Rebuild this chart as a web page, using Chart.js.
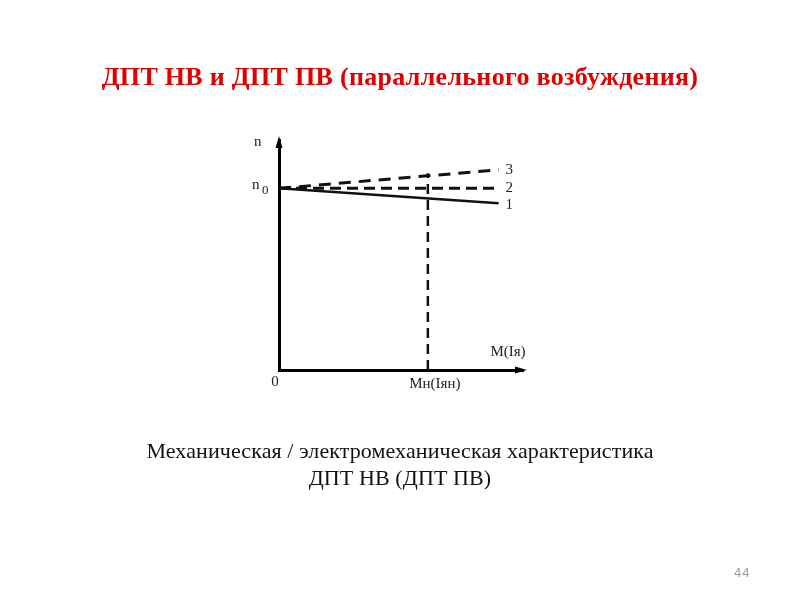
<!DOCTYPE html>
<html>
<head>
<meta charset="utf-8">
<script src="https://cdn.jsdelivr.net/npm/chart.js@4"></script>
<style>
  html,body{margin:0;padding:0;background:#fff;width:800px;height:600px;overflow:hidden;}
  #wrap{position:absolute;left:0;top:0;width:800px;height:600px;}
  .t{position:absolute;left:0;width:800px;text-align:center;font-family:"Liberation Serif","Times New Roman",serif;white-space:nowrap;line-height:1;}
  #title{top:64px;font-size:26px;font-weight:bold;color:#e00000;letter-spacing:0.3px;}
  #cap1{top:440px;font-size:22px;color:#111;letter-spacing:0.1px;}
  #cap2{top:467px;font-size:22px;color:#111;letter-spacing:0.1px;}
  #pg{position:absolute;left:734px;top:565px;font-family:"Liberation Sans",Arial,sans-serif;font-size:13px;color:#9a9a9a;letter-spacing:1px;}
</style>
</head>
<body>
<div id="wrap"><canvas id="c" width="800" height="600"></canvas></div>
<div class="t" id="title">ДПТ НВ и ДПТ ПВ (параллельного возбуждения)</div>
<div class="t" id="cap1">Механическая / электромеханическая характеристика</div>
<div class="t" id="cap2">ДПТ НВ (ДПТ ПВ)</div>
<div id="pg">44</div>
<script>
// ---- data ----
const xRange = [0, 10];          // M (Iя) axis, arbitrary units
const yRange = [0, 10];          // n axis, arbitrary units
const xLine = [0, 9];            // start / end of characteristics
const curve1 = [7.9, 7.25];      // 1 – falling (solid)
const curve2 = [7.9, 7.9];       // 2 – constant (dashed)
const curve3 = [7.9, 8.7];       // 3 – rising (dashed)
const nominalX = [6.1, 6.1];     // Мн (Iян)
const nominalY = [0, 8.55];
const n0Value = 7.9;
const curveLabels = ['1', '2', '3'];
const axisLabels = { y: 'n', y0: 'n', y0sub: '0', x: 'M(Iя)', origin: '0', nominal: 'Мн(Iян)' };

const pts = (xs, ys) => xs.map((x, i) => ({ x: x, y: ys[i] }));

const annot = {
  id: 'annot',
  afterDraw(chart) {
    const ctx = chart.ctx;
    const xs = chart.scales.x, ys = chart.scales.y;
    const X = v => xs.getPixelForValue(v), Y = v => ys.getPixelForValue(v);
    ctx.save();
    ctx.fillStyle = '#000';
    // arrows
    const ax = X(xRange[0]), ay = Y(yRange[0]);
    const topY = Y(yRange[1]), rightX = X(xRange[1]);
    ctx.beginPath();
    ctx.moveTo(ax, topY - 4); ctx.lineTo(ax - 3.5, topY + 8); ctx.lineTo(ax + 3.5, topY + 8); ctx.closePath(); ctx.fill();
    ctx.beginPath();
    ctx.moveTo(rightX + 4, ay); ctx.lineTo(rightX - 8, ay - 3.5); ctx.lineTo(rightX - 8, ay + 3.5); ctx.closePath(); ctx.fill();
    ctx.font = '15px "Liberation Serif", serif';
    ctx.textBaseline = 'middle';
    ctx.fillStyle = '#222';
    // curve numbers
    const ends = [curve1[1], curve2[1], curve3[1]];
    ctx.textAlign = 'left';
    ends.forEach((v, i) => ctx.fillText(curveLabels[i], X(xLine[1]) + 7, Y(v) + (i === 0 ? 2 : 0)));
    // n label
    ctx.fillText(axisLabels.y, ax - 25, topY + 2);
    // n0
    ctx.fillText(axisLabels.y0, ax - 27, Y(n0Value) - 3);
    ctx.font = '13px "Liberation Serif", serif';
    ctx.fillText(axisLabels.y0sub, ax - 17, Y(n0Value) + 2);
    ctx.font = '15px "Liberation Serif", serif';
    // x axis label
    ctx.textAlign = 'center';
    ctx.fillText(axisLabels.x, rightX - 15, ay - 18);
    ctx.fillText(axisLabels.origin, ax - 4, ay + 12);
    ctx.fillText(axisLabels.nominal, X(nominalX[0]) + 7, ay + 14);
    ctx.restore();
  }
};

new Chart(document.getElementById('c'), {
  type: 'scatter',
  data: {
    datasets: [
      { data: pts(xLine, curve1), showLine: true, borderColor: '#111', borderWidth: 2.5, pointRadius: 0 },
      { data: pts(xLine, curve2), showLine: true, borderColor: '#111', borderWidth: 3, borderDash: [11, 6], pointRadius: 0 },
      { data: pts(xLine, curve3), showLine: true, borderColor: '#111', borderWidth: 3, borderDash: [12, 8], pointRadius: 0 },
      { data: pts(nominalX, nominalY), showLine: true, borderColor: '#111', borderWidth: 2.5, borderDash: [10, 6], pointRadius: 0 }
    ]
  },
  options: {
    responsive: false,
    animation: false,
    events: [],
    layout: { padding: { left: 279, right: 277, top: 140, bottom: 230 } },
    plugins: { legend: { display: false }, tooltip: { enabled: false } },
    scales: {
      x: { type: 'linear', min: xRange[0], max: xRange[1], grid: { display: false, drawTicks: false }, ticks: { display: false }, border: { display: true, color: '#000', width: 3 } },
      y: { type: 'linear', min: yRange[0], max: yRange[1], grid: { display: false, drawTicks: false }, ticks: { display: false }, border: { display: true, color: '#000', width: 3 } }
    }
  },
  plugins: [annot]
});
</script>
</body>
</html>
